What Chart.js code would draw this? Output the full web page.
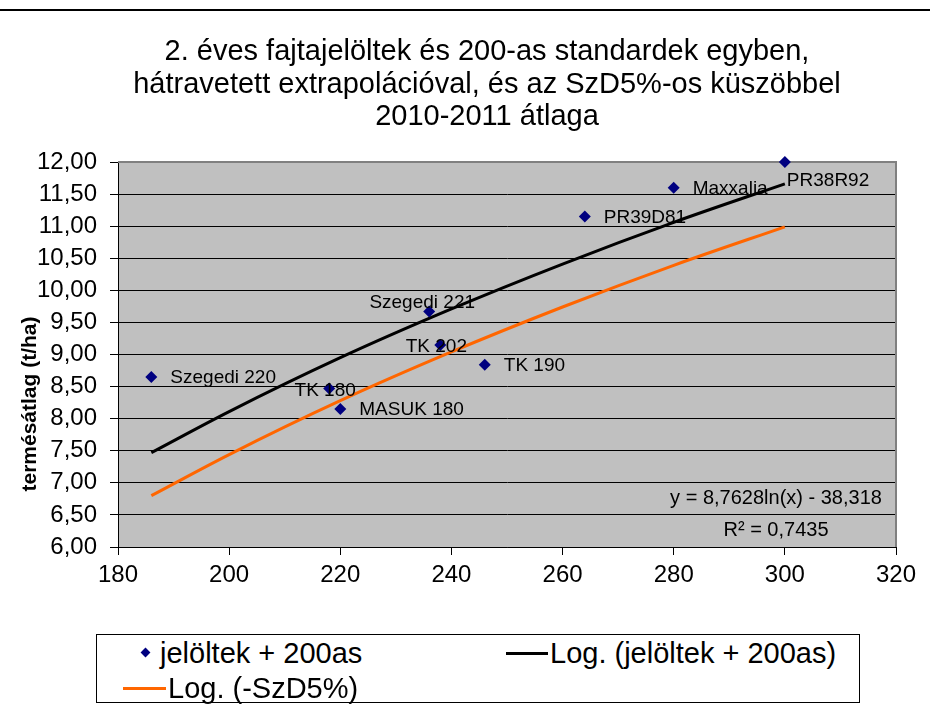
<!DOCTYPE html>
<html>
<head>
<meta charset="utf-8">
<script src="https://cdn.jsdelivr.net/npm/chart.js@4.4.1/dist/chart.umd.min.js"></script>
<style>
  html, body { margin: 0; padding: 0; background: #fff; }
  body {
    width: 930px;
    height: 711px;
    position: relative;
    overflow: hidden;
    font-family: "Liberation Sans", Arial, sans-serif;
    color: #000;
  }
  .top-rule {
    position: absolute;
    left: 0; right: 0; top: 9px;
    border-top: 2px solid #000;
  }
  .chart-title {
    position: absolute;
    left: 44px; right: 0; top: 34px;
    text-align: center;
    font-size: 29px;
    line-height: 32.5px;
  }
  #chart-box {
    position: absolute;
    left: 0; top: 0;
    width: 930px; height: 711px;
  }
  .legend-box {
    position: absolute;
    left: 96px; top: 634px;
    width: 764px; height: 69px;
    box-sizing: border-box;
    border: 1px solid #000;
    background: #fff;
    font-size: 29px;
  }
  .legend-box span {
    position: absolute;
    line-height: 32px;
    white-space: nowrap;
  }
  .legend-box .mark { position: absolute; }
  .diamond {
    width: 7px; height: 7px;
    background: #000080;
    transform: rotate(45deg);
  }
  .swatch { height: 3px; }
</style>
</head>
<body>
  <div class="top-rule"></div>
  <div id="chart-box"><canvas id="yieldChart" width="930" height="711"></canvas></div>
  <div class="chart-title">
    2. éves fajtajelöltek és 200-as standardek egyben,<br>
    hátravetett extrapolációval, és az SzD5%-os küszöbbel<br>
    2010-2011 átlaga
  </div>
  <div class="legend-box">
    <div class="mark diamond" style="left:45px; top:14px;"></div>
    <span style="left:63px; top:2px;">jelöltek + 200as</span>
    <div class="mark swatch" style="left:409px; top:17px; width:42px; background:#000;"></div>
    <span style="left:453px; top:2px;">Log. (jelöltek + 200as)</span>
    <div class="mark swatch" style="left:26px; top:52px; width:43px; background:#ff6600;"></div>
    <span style="left:71px; top:37px;">Log. (-SzD5%)</span>
  </div>

<script>
  // candidates + standards
  const varietyNames = ["Szegedi 220", "TK 180", "MASUK 180", "Szegedi 221", "TK 202", "TK 190", "PR39D81", "Maxxalia", "PR38R92"];
  const varietyX = [186, 218, 220, 236, 238, 246, 264, 280, 300];
  const varietyYield = [8.65, 8.47, 8.15, 9.67, 9.15, 8.84, 11.15, 11.60, 12.00];
  // where each name sits next to its marker
  const labelPlacement = ["right", "center", "right", "above", "center", "right", "right", "right", "belowRight"];

  // log trend lines
  const trendX = [186, 200, 220, 240, 260, 280, 300];
  const trendMain = [7.47, 8.11, 8.95, 9.71, 10.41, 11.06, 11.66];
  const trendSzD = [6.80, 7.44, 8.28, 9.04, 9.74, 10.39, 10.99];

  const equationLines = ["y = 8,7628ln(x) - 38,318", "R² = 0,7435"];
  const yAxisTitle = "termésátlag (t/ha)";

  const fontFamily = '"Liberation Sans", Arial, sans-serif';
  Chart.defaults.font.family = fontFamily;
  Chart.defaults.color = "#000";

  function toPoints(xs, ys) {
    return xs.map((x, i) => ({ x: x, y: ys[i] }));
  }

  // grey plot background + grey top/right frame
  const plotArea = {
    id: "plotArea",
    beforeDraw(chart) {
      const { ctx, chartArea: a } = chart;
      ctx.save();
      ctx.fillStyle = "#c0c0c0";
      ctx.fillRect(a.left, a.top, a.right - a.left, a.bottom - a.top);
      ctx.restore();
    },
    beforeDatasetsDraw(chart) {
      const { ctx, chartArea: a } = chart;
      ctx.save();
      ctx.strokeStyle = "#808080";
      ctx.lineWidth = 2;
      ctx.beginPath();
      ctx.moveTo(a.left, a.top);
      ctx.lineTo(a.right, a.top);
      ctx.lineTo(a.right, a.bottom);
      ctx.stroke();
      ctx.restore();
    }
  };

  // variety names, equation text and the y axis title
  const textLayer = {
    id: "textLayer",
    afterDatasetsDraw(chart) {
      const { ctx, chartArea: a } = chart;
      const meta = chart.getDatasetMeta(0);
      ctx.save();
      ctx.fillStyle = "#000";
      ctx.textBaseline = "middle";
      ctx.font = "19px " + fontFamily;
      meta.data.forEach((pt, i) => {
        let x = pt.x, y = pt.y;
        switch (labelPlacement[i]) {
          case "center": ctx.textAlign = "center"; x -= 4; y += 2; break;
          case "above": ctx.textAlign = "center"; x -= 7; y -= 9; break;
          case "belowRight": ctx.textAlign = "left"; x += 2; y += 19; break;
          default: ctx.textAlign = "left"; x += 19; y += 1;
        }
        ctx.fillText(varietyNames[i], x, y);
      });

      ctx.textAlign = "center";
      ctx.font = "20px " + fontFamily;
      ctx.fillText(equationLines[0], a.right - 120, a.bottom - 49);
      ctx.fillText(equationLines[1], a.right - 120, a.bottom - 17);

      ctx.translate(30, 404);
      ctx.rotate(-Math.PI / 2);
      ctx.font = "bold 21px " + fontFamily;
      ctx.fillText(yAxisTitle, 0, 0);
      ctx.restore();
    }
  };

  const ctx = document.getElementById("yieldChart").getContext("2d");
  new Chart(ctx, {
    type: "scatter",
    data: {
      datasets: [
        {
          label: "jelöltek + 200as",
          data: toPoints(varietyX, varietyYield),
          pointStyle: "rectRot",
          pointRadius: 6,
          backgroundColor: "#000080",
          borderColor: "#000080",
          borderWidth: 0,
          clip: false,
          order: 0
        },
        {
          label: "Log. (jelöltek + 200as)",
          type: "line",
          data: toPoints(trendX, trendMain),
          borderColor: "#000",
          borderWidth: 3,
          pointRadius: 0,
          cubicInterpolationMode: "monotone",
          fill: false,
          order: 1
        },
        {
          label: "Log. (-SzD5%)",
          type: "line",
          data: toPoints(trendX, trendSzD),
          borderColor: "#ff6600",
          borderWidth: 3,
          pointRadius: 0,
          cubicInterpolationMode: "monotone",
          fill: false,
          order: 2
        }
      ]
    },
    options: {
      responsive: false,
      animation: false,
      layout: { padding: { top: 162, left: 0, right: 34, bottom: 124 } },
      plugins: {
        legend: { display: false },
        title: { display: false },
        tooltip: { enabled: false }
      },
      scales: {
        x: {
          type: "linear",
          min: 180,
          max: 320,
          border: { color: "#000", width: 1 },
          grid: { drawOnChartArea: false, drawTicks: true, tickLength: 8, color: "#000" },
          ticks: { stepSize: 20, font: { size: 24 }, padding: 6, color: "#000" },
          afterFit(scale) { scale.height = 40; }
        },
        y: {
          min: 6,
          max: 12,
          border: { color: "#000", width: 1 },
          grid: { color: "#000", lineWidth: 1, tickLength: 8 },
          ticks: {
            stepSize: 0.5,
            autoSkip: false,
            font: { size: 24 },
            padding: 13,
            color: "#000",
            callback: (v) => v.toFixed(2).replace(".", ",")
          },
          afterFit(scale) { scale.width = 118; }
        }
      }
    },
    plugins: [plotArea, textLayer]
  });
</script>
</body>
</html>
